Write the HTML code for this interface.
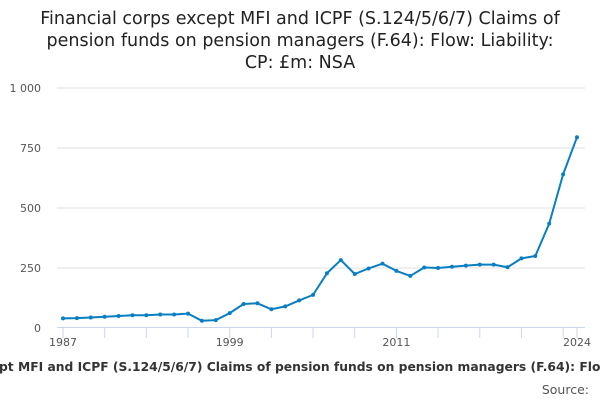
<!DOCTYPE html>
<html><head><meta charset="utf-8"><style>
body{margin:0;width:600px;height:400px;overflow:hidden;background:#fff;font-family:"Liberation Sans","DejaVu Sans",sans-serif;}
</style></head><body>
<svg width="600" height="400" style="position:absolute;left:0;top:0">
<g font-size="17.5" fill="#222" text-anchor="middle" font-family="DejaVu Sans, sans-serif">
<text x="300" y="24">Financial corps except MFI and ICPF (S.124/5/6/7) Claims of</text>
<text x="300" y="46">pension funds on pension managers (F.64): Flow: Liability:</text>
<text x="300" y="68">CP: £m: NSA</text>
</g>
<g id="grid"></g>
<g id="yl" font-size="11" fill="#555" text-anchor="end" font-family="DejaVu Sans, sans-serif"></g>
<g id="xa" font-size="11" fill="#555" text-anchor="middle" font-family="DejaVu Sans, sans-serif"></g>
<g id="series"></g>
<text id="pre" x="0" y="-50" font-size="12.3" font-weight="bold" font-family="DejaVu Sans, sans-serif" fill="none">Financial corps exce</text>
<text id="xt" x="-140" y="371" text-anchor="start" font-size="12.3" font-weight="bold" fill="#333" font-family="DejaVu Sans, sans-serif">Financial corps except MFI and ICPF (S.124/5/6/7) Claims of pension funds on pension managers (F.64): Flow: Liability: CP: £m: NSA</text>
<text x="589" y="394" text-anchor="end" font-size="12.5" fill="#555" font-family="DejaVu Sans, sans-serif">Source:</text>
</svg>
<script>
const years=[];for(let y=1987;y<=2024;y++)years.push(y);
const values=[40,41,44,47,50,53,53,56,56,60,30,33,62,100,103,78,90,115,138,228,283,225,248,268,238,217,252,250,255,260,264,264,253,290,300,435,640,795];
const yTicks=[0,250,500,750,1000];
const yTickLabels=["0","250","500","750","1 000"];
const xLabelYears=[1987,1999,2011,2024];
const NS="http://www.w3.org/2000/svg";
const x0=63,x1=577,yb=328,yt=88;
const xs=y=>x0+(y-1987)*(x1-x0)/(2024-1987);
const ys=v=>yb-v*(yb-yt)/1000;
function mk(t,a,p){const e=document.createElementNS(NS,t);for(const k in a)e.setAttribute(k,a[k]);p.appendChild(e);return e;}
try{const w=document.getElementById('pre').getComputedTextLength();document.getElementById('xt').setAttribute('x',-w-1);}catch(e){}
const grid=document.getElementById('grid'),yl=document.getElementById('yl'),xa=document.getElementById('xa'),se=document.getElementById('series');
yTicks.forEach((v,i)=>{
 if(v>0){const l=mk('line',{x1:57,x2:585,y1:ys(v),y2:ys(v),stroke:'#e0e0e0'},grid);
 
 }
 const t=mk('text',{x:41,y:ys(v)+4},yl);t.textContent=yTickLabels[i];
 
 
});
const ax=mk('line',{x1:57,x2:585,y1:yb-0.5,y2:yb-0.5,stroke:'#ccd6eb'},xa);


for(let y=1987;y<=2024;y+=3){const tk=mk('line',{x1:xs(y),x2:xs(y),y1:yb,y2:yb+10,stroke:'#ccd6eb'},xa);
 
 }
const tk2=mk('line',{x1:xs(2024),x2:xs(2024),y1:yb,y2:yb+10,stroke:'#ccd6eb'},xa);


xLabelYears.forEach(y=>{const t=mk('text',{x:xs(y),y:yb+18},xa);t.textContent=y;
 
 });
const pl=mk('polyline',{points:values.map((v,i)=>xs(years[i])+','+ys(v)).join(' '),fill:'none',stroke:'#0a7ec2','stroke-width':2,'stroke-linejoin':'round'},se);


values.forEach((v,i)=>{const c=mk('circle',{cx:xs(years[i]),cy:ys(v),r:2,fill:'#0a7ec2'},se);
 
 });
</script>
</body></html>
